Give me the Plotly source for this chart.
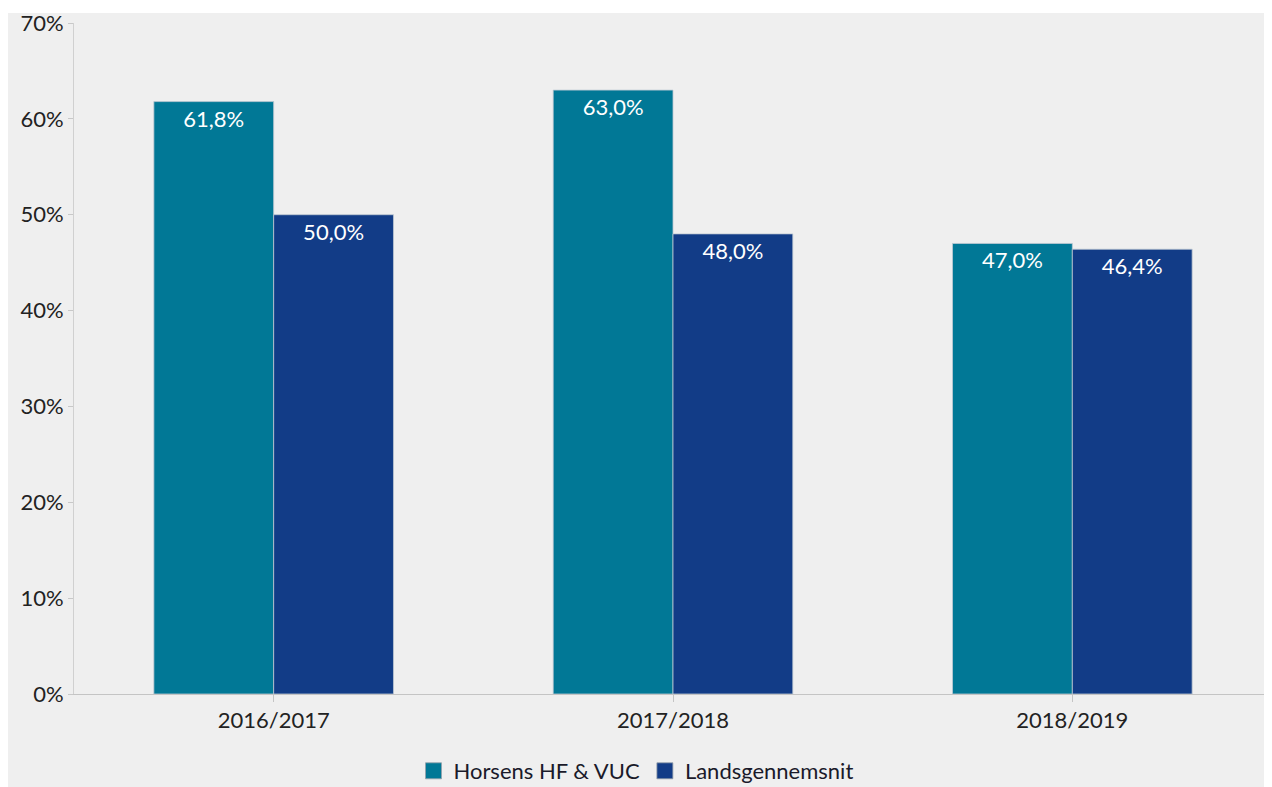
import plotly.graph_objects as go

categories = ["2016/2017", "2017/2018", "2018/2019"]
horsens = [61.8, 63.0, 47.0]
lands = [50.0, 48.0, 46.4]
series_names = ["Horsens HF & VUC", "Landsgennemsnit"]
colors = ["#017896", "#123c87"]
y_ticks = [0, 10, 20, 30, 40, 50, 60, 70]
y_tick_text = ["0%", "10%", "20%", "30%", "40%", "50%", "60%", "70%"]

OFF = 8  # page offset of the figure inside the browser window (body margin)
W, H = 1272 - OFF, 787 - OFF
L, R, T, B = 74 - OFF, 0, 23 - OFF, 787 - 694
pw, ph = W - L - R, H - T - B

fig = go.Figure()
for name, vals, col in zip(series_names, [horsens, lands], colors):
    fig.add_trace(go.Bar(
        x=categories, y=vals, name=name, showlegend=False, legendgroup=name,
        marker=dict(color=col, line=dict(color="rgba(190,200,210,0.8)", width=1)),
        texttemplate="%{y:.1f}%", textposition="inside", insidetextanchor="end",
        textfont=dict(color="white", size=22, family="Lato"),
        hoverinfo="skip",
    ))
for name, col in zip(series_names, colors):
    fig.add_trace(go.Scatter(
        x=[None], y=[None], mode="markers", name=name, legendgroup=name,
        marker=dict(symbol="square", size=16, color=col,
                    line=dict(color="rgba(150,160,170,0.8)", width=1)),
    ))

def px_x(p):
    return (p - OFF - L) / pw

def px_y(p):
    return (H - B - (p - OFF)) / ph

fig.add_shape(type="rect", xref="paper", yref="paper", layer="below",
              x0=px_x(7), x1=px_x(1300), y0=px_y(820), y1=px_y(13),
              fillcolor="#efefef", line=dict(width=0))

fig.update_layout(
    width=W, height=H,
    margin=dict(l=L, r=R, t=T, b=B, autoexpand=False),
    paper_bgcolor="white", plot_bgcolor="rgba(0,0,0,0)",
    separators=",.",
    barmode="group", bargap=0.4, bargroupgap=0,
    font=dict(family="Lato", size=22, color="#222222"),
    showlegend=True,
    legend=dict(orientation="h", x=px_x(636), xanchor="center",
                y=px_y(771), yanchor="middle",
                font=dict(family="Lato", size=22, color="#1a1a2a"),
                bgcolor="rgba(0,0,0,0)", tracegroupgap=0),
    xaxis=dict(type="category", showgrid=False, showline=True, linecolor="#c4c4c4",
               linewidth=1, ticks="outside", ticklen=7, tickcolor="#c4c4c4",
               tickfont=dict(size=22, family="Lato", color="#222222")),
    yaxis=dict(range=[0, 70], tickmode="array", tickvals=y_ticks, ticktext=y_tick_text,
               showgrid=False, zeroline=False, showline=True, linecolor="#d0d0d0",
               linewidth=1, ticks="outside", ticklen=5, tickcolor="#c8c8c8",
               tickfont=dict(size=22, family="Lato", color="#222222")),
)

fig.write_html("out.html")
